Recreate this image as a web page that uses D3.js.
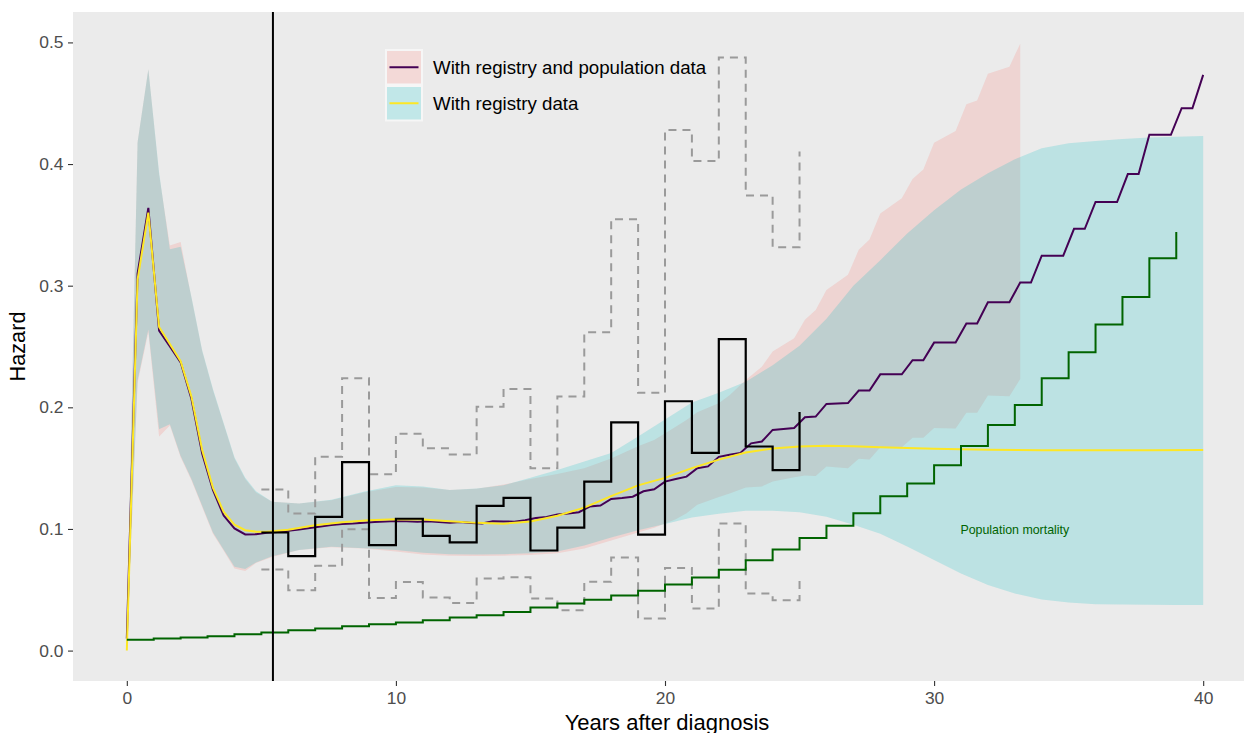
<!DOCTYPE html>
<html>
<head>
<meta charset="utf-8">
<script src="https://cdn.jsdelivr.net/npm/d3@7"></script>
<style>
  html, body { margin: 0; padding: 0; background: #ffffff; }
  svg { display: block; font-family: "Liberation Sans", Arial, sans-serif; }
</style>
</head>
<body>
<svg id="chart" width="1244" height="733"></svg>
<script>
// ---- data -----------------------------------------------------------
// Hazard estimated with registry and population data (evaluated every 0.4 years)
const regPopTime = [0,0.4,0.8,1.2,1.6,2,2.4,2.8,3.2,3.6,4,4.4,4.8,5.2,5.6,6,6.4,6.8,7.2,7.6,
  8,8.4,8.8,9.2,9.6,10,10.4,10.8,11.2,11.6,12,12.4,12.8,13.2,13.6,14,14.4,14.8,15.2,15.6,
  16,16.4,16.8,17.2,17.6,18,18.4,18.8,19.2,19.6,20,20.4,20.8,21.2,21.6,22,22.4,22.8,23.2,23.6,
  24,24.4,24.8,25.2,25.6,26,26.4,26.8,27.2,27.6,28,28.4,28.8,29.2,29.6,30,30.4,30.8,31.2,31.6,
  32,32.4,32.8,33.2,33.6,34,34.4,34.8,35.2,35.6,36,36.4,36.8,37.2,37.6,38,38.4,38.8,39.2,39.6,40];
const regPopHazard = [0.010,0.310,0.364,0.263,0.250,0.237,0.207,0.162,0.132,0.111,0.1004,0.0955,0.0957,0.0968,0.0975,0.0985,0.0995,0.1008,0.1020,0.1032,
  0.1040,0.1045,0.1052,0.1058,0.1062,0.1066,0.1064,0.1060,0.1064,0.1058,0.1052,0.1058,0.1048,0.1045,0.1064,0.1062,0.1060,0.1072,0.1090,0.1098,
  0.1118,0.1128,0.1138,0.1184,0.1193,0.1247,0.1255,0.1265,0.1310,0.1326,0.1389,0.1410,0.1430,0.1499,0.1514,0.1593,0.1610,0.1625,0.1704,0.1719,
  0.1814,0.1822,0.1830,0.1918,0.1924,0.2028,0.2032,0.2035,0.2138,0.2138,0.2271,0.2271,0.2271,0.2387,0.2387,0.2532,0.2532,0.2532,0.2690,0.2690,
  0.2863,0.2863,0.2863,0.3026,0.3026,0.3247,0.3247,0.3247,0.3468,0.3468,0.3688,0.3688,0.3688,0.3918,0.3918,0.4240,0.4240,0.4240,0.4459,0.4459,0.4733];

// Hazard estimated with registry data only
const regTime = [0,0.4,0.8,1.2,1.6,2,2.4,2.8,3.2,3.6,4,4.4,4.8,5.2,6,7,8,9,10,11,12,13,14,15,16,17,18,19,20,21,22,23,24,25,26,27,28,29,30,32,34,36,38,40];
const regHazard = [0.000,0.305,0.360,0.266,0.252,0.238,0.209,0.165,0.134,0.114,0.1035,0.0990,0.0978,0.0978,0.0993,0.1030,0.1055,0.1072,0.1080,0.1077,
  0.1064,0.1050,0.1043,0.1062,0.1108,0.1175,0.1270,0.1358,0.1420,0.1500,0.1570,0.1628,0.1662,0.1678,0.1685,0.1680,0.1672,0.1665,0.1660,0.1652,
  0.1648,0.1647,0.1648,0.1650];

// Confidence band, registry and population data
const bandPopTime = [0,0.4,0.8,1.2,1.6,2,2.4,2.8,3.2,3.6,4,4.4,4.8,5.4,6.4,7.6,8.8,10,11,12,13,14,15,16,17,18,19,19.6,20.4,20.8,21.2,22,22.4,23,23.6,24,24.8,
  25.2,25.6,26,26.8,27.2,27.6,28,28.8,29.2,29.6,30,30.8,31.2,31.6,32,32.8,33.2];
const bandPopLow = [0.005,0.220,0.262,0.176,0.185,0.159,0.140,0.118,0.096,0.082,0.0675,0.0655,0.0720,0.0770,0.0826,0.0850,0.0840,0.0815,0.0790,0.0780,
  0.0778,0.0780,0.0785,0.0800,0.0840,0.0905,0.0970,0.1010,0.1080,0.1130,0.1200,0.1263,0.1292,0.1340,0.1350,0.1390,0.1425,
  0.1440,0.1436,0.1514,0.1499,0.1578,0.1572,0.1672,0.1672,0.1750,0.1750,0.1830,0.1825,0.1956,0.1956,0.2097,0.2090,0.2233];
const bandPopHigh = [0.015,0.418,0.478,0.391,0.333,0.336,0.290,0.246,0.214,0.186,0.158,0.141,0.130,0.1223,0.1210,0.1237,0.1300,0.1345,0.1340,0.1320,
  0.1330,0.1365,0.1410,0.1452,0.1500,0.1580,0.1680,0.1731,0.1840,0.1895,0.1960,0.2033,0.2100,0.2225,0.2334,0.2458,0.2568,
  0.2719,0.2801,0.2964,0.3090,0.3295,0.3379,0.3593,0.3719,0.3877,0.3956,0.4176,0.4271,0.4491,0.4523,0.4743,0.4800,0.4990];

// Confidence band, registry data only
const bandRegTime = [0,0.4,0.8,1.2,1.6,2,2.4,2.8,3.2,3.6,4,4.4,4.8,5.4,6.4,7.6,8.8,10,11,12,13,14,15,16,17,18,19,20,21,22,23,24,25,26,27,28,29,30,31,32,33,34,35,36,37,38,39,40];
const bandRegLow = [0.005,0.222,0.264,0.182,0.186,0.160,0.141,0.119,0.097,0.083,0.069,0.067,0.0725,0.0775,0.0826,0.0853,0.0842,0.0826,0.0804,0.0792,
  0.0790,0.0793,0.0800,0.0815,0.0865,0.0930,0.0990,0.1040,0.1095,0.1125,0.1150,0.1150,0.1137,0.1100,0.1035,0.0960,0.0855,0.0745,0.0633,0.0540,
  0.0470,0.0420,0.0395,0.0382,0.0378,0.0376,0.0375,0.0375];
const bandRegHigh = [0.015,0.418,0.478,0.393,0.330,0.332,0.291,0.247,0.215,0.187,0.159,0.142,0.131,0.1223,0.1210,0.1240,0.1305,0.1360,0.1350,0.1320,
  0.1333,0.1360,0.1420,0.1485,0.1555,0.1625,0.1760,0.1900,0.2040,0.2120,0.2210,0.2345,0.2507,0.2728,0.3000,0.3210,0.3430,0.3620,0.3790,0.3924,
  0.4040,0.4129,0.4170,0.4190,0.4205,0.4218,0.4225,0.4230];

// Yearly empirical hazard with its interval (step functions)
const empYears = [5,6,7,8,9,10,11,12,13,14,15,16,17,18,19,20,21,22,23,24,25];
const empHazard = [0.0971,0.0776,0.1100,0.1550,0.0867,0.1084,0.0943,0.0889,0.1190,0.1256,0.0823,0.1011,0.1389,0.1877,0.0954,0.2050,0.1625,0.2560,0.1678,0.1483,0.1962];
const empUpper  = [0.1325,0.1128,0.1594,0.2239,0.1449,0.1783,0.1663,0.1613,0.2005,0.2151,0.1499,0.2088,0.2617,0.3547,0.2119,0.4280,0.4025,0.4876,0.3742,0.3316,0.4104];
const empLower  = [0.0667,0.0496,0.0697,0.0998,0.0433,0.0563,0.0436,0.0392,0.0593,0.0603,0.0428,0.0332,0.0565,0.0765,0.0263,0.0680,0.0346,0.1045,0.0469,0.0414,0.0620];

// Population (background) mortality by year
const popYears = [0,1,2,3,4,5,6,7,8,9,10,11,12,13,14,15,16,17,18,19,20,21,22,23,24,25,26,27,28,29,30,31,32,33,34,35,36,37,38,39];
const popHazard = [0.0090,0.0099,0.0107,0.0118,0.0134,0.0148,0.0167,0.0181,0.0200,0.0216,0.0230,0.0249,0.0272,0.0291,0.0318,0.0354,0.0387,0.0418,0.0453,0.0491,
  0.0544,0.0601,0.0664,0.0743,0.0831,0.0926,0.1026,0.1130,0.1269,0.1373,0.1524,0.1681,0.1854,0.2019,0.2239,0.2453,0.2680,0.2907,0.3225,0.3442];

const landmarkYear = 5.43;
const xTicks = [0, 10, 20, 30, 40];
const yTicks = [0, 0.1, 0.2, 0.3, 0.4, 0.5];
const legendLabels = ["With registry and population data", "With registry data"];
const popLabel = "Population mortality";
const xTitle = "Years after diagnosis";
const yTitle = "Hazard";

// ---- layout ---------------------------------------------------------
const W = 1244, H = 733;
const panel = { left: 73, top: 12, right: 1257, bottom: 681 };
const svg = d3.select("#chart");

const x = d3.scaleLinear().domain([-2, 42]).range([panel.left, panel.right]);
const y = d3.scaleLinear().domain([-0.025, 0.525]).range([panel.bottom, panel.top]);

const colPop = "#F8766D", colReg = "#00BFC4";
const colPopLine = "#440154", colRegLine = "#FDE725";

svg.append("rect").attr("width", W).attr("height", H).attr("fill", "#ffffff");
svg.append("rect")
  .attr("x", panel.left).attr("y", panel.top)
  .attr("width", panel.right - panel.left).attr("height", panel.bottom - panel.top)
  .attr("fill", "#EBEBEB");

svg.append("clipPath").attr("id", "clip").append("rect")
  .attr("x", panel.left).attr("y", panel.top)
  .attr("width", panel.right - panel.left).attr("height", panel.bottom - panel.top);

const plot = svg.append("g").attr("clip-path", "url(#clip)");

const zip = (t, v) => t.map((d, i) => [d, v[i]]);
const zip3 = (t, lo, hi) => t.map((d, i) => [d, lo[i], hi[i]]);

const area = d3.area().x(d => x(d[0])).y0(d => y(d[1])).y1(d => y(d[2]));
const line = d3.line().x(d => x(d[0])).y(d => y(d[1]));
const step = d3.line().x(d => x(d[0])).y(d => y(d[1])).curve(d3.curveStepAfter);

// confidence ribbons
plot.append("path").datum(zip3(bandPopTime, bandPopLow, bandPopHigh))
  .attr("d", area).attr("fill", colPop).attr("fill-opacity", 0.2);
plot.append("path").datum(zip3(bandRegTime, bandRegLow, bandRegHigh))
  .attr("d", area).attr("fill", colReg).attr("fill-opacity", 0.2);

// hazard curves
plot.append("path").datum(zip(regPopTime, regPopHazard))
  .attr("d", line).attr("fill", "none").attr("stroke", colPopLine).attr("stroke-width", 2);
plot.append("path").datum(zip(regTime, regHazard))
  .attr("d", line).attr("fill", "none").attr("stroke", colRegLine).attr("stroke-width", 2);

// empirical hazard interval (dashed) and estimate
[empUpper, empLower].forEach(v => {
  plot.append("path").datum(zip(empYears, v))
    .attr("d", step).attr("fill", "none").attr("stroke", "#9a9a9a")
    .attr("stroke-width", 2).attr("stroke-dasharray", "8,6");
});
plot.append("path").datum(zip(empYears, empHazard))
  .attr("d", step).attr("fill", "none").attr("stroke", "#000000").attr("stroke-width", 2.2);

// population mortality
plot.append("path").datum(zip(popYears, popHazard))
  .attr("d", step).attr("fill", "none").attr("stroke", "#006400").attr("stroke-width", 2);

plot.append("text")
  .attr("x", x(33.0)).attr("y", y(0.0995))
  .attr("text-anchor", "middle").attr("dy", "0.35em")
  .attr("font-size", 12.4).attr("fill", "#006400")
  .text(popLabel);

// landmark line
plot.append("line")
  .attr("x1", x(landmarkYear)).attr("x2", x(landmarkYear))
  .attr("y1", panel.top).attr("y2", panel.bottom)
  .attr("stroke", "#000000").attr("stroke-width", 2);

// ---- axes -----------------------------------------------------------
const yAxis = svg.append("g").attr("transform", `translate(${panel.left},0)`)
  .call(d3.axisLeft(y).tickValues(yTicks).tickFormat(d3.format(".1f")).tickSize(5).tickPadding(4.5));
const xAxis = svg.append("g").attr("transform", `translate(0,${panel.bottom})`)
  .call(d3.axisBottom(x).tickValues(xTicks).tickFormat(d3.format("d")).tickSize(5).tickPadding(5.5));
[xAxis, yAxis].forEach(a => {
  a.select(".domain").remove();
  a.selectAll(".tick line").attr("stroke", "#333333").attr("stroke-width", 1.1);
  a.selectAll(".tick text").attr("fill", "#4D4D4D").attr("font-size", 17.4)
    .attr("font-family", "'Liberation Sans', Arial, sans-serif");
});

svg.append("text")
  .attr("x", (panel.left + panel.right) / 2 + 2).attr("y", 729.5)
  .attr("text-anchor", "middle").attr("font-size", 22).attr("fill", "#000")
  .text(xTitle);
svg.append("text")
  .attr("transform", `translate(25,${(panel.top + panel.bottom) / 2}) rotate(-90)`)
  .attr("text-anchor", "middle").attr("font-size", 21.7).attr("fill", "#000")
  .text(yTitle);

// ---- legend ---------------------------------------------------------
const legend = svg.append("g").attr("transform", "translate(387,51)");
const keyW = 34, keyH = 32.5, keyGap = 3.5;
const legendFill = [colPop, colReg], legendLine = [colPopLine, colRegLine];
legend.append("rect").attr("x", -2).attr("y", -2)
  .attr("width", keyW + 4).attr("height", 2 * keyH + keyGap + 4).attr("fill", "#F6F6F6");
legendLabels.forEach((lab, i) => {
  const g = legend.append("g").attr("transform", `translate(0,${i * (keyH + keyGap)})`);
  g.append("rect").attr("width", keyW).attr("height", keyH).attr("fill", "#F2F2F2");
  g.append("rect").attr("width", keyW).attr("height", keyH).attr("fill", legendFill[i]).attr("fill-opacity", 0.2);
  g.append("line").attr("x1", 2.5).attr("x2", keyW - 2.5)
    .attr("y1", keyH / 2).attr("y2", keyH / 2)
    .attr("stroke", legendLine[i]).attr("stroke-width", 2);
  g.append("text").attr("x", 46).attr("y", keyH / 2).attr("dy", "0.35em")
    .attr("font-size", 18.7).attr("fill", "#000").text(lab);
});
</script>
</body>
</html>
